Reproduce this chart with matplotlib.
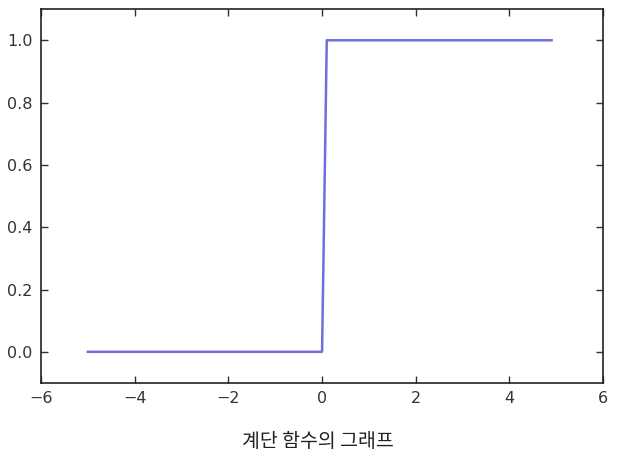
import matplotlib
matplotlib.use('Agg')
import matplotlib.pyplot as plt

# step function samples (x > 0 -> 1)
x_vals = [-5.0, 0.0, 0.1, 4.9]
y_vals = [0, 0, 1, 1]

x_ticks = [-6, -4, -2, 0, 2, 4, 6]
y_ticks = [0.0, 0.2, 0.4, 0.6, 0.8, 1.0]
caption = '계단 함수의 그래프'

plt.rcParams['font.family'] = ['DejaVu Sans']

fig = plt.figure(figsize=(6.17, 4.57), dpi=100)
ax = fig.add_axes([0.0665, 0.162, 0.911, 0.818])

ax.plot(x_vals, y_vals, color='#7070dc', linewidth=1.8)
ax.set_xlim(-6, 6)
ax.set_ylim(-0.1, 1.1)
ax.set_xticks(x_ticks)
ax.set_yticks(y_ticks)
ax.set_yticklabels(['%.1f' % v for v in y_ticks])
ax.tick_params(direction='in', top=True, right=True, length=5, width=1,
               labelsize=11.5, colors='#333333', pad=6)
for s in ax.spines.values():
    s.set_linewidth(1.2)
    s.set_color('#222222')

fig.text(0.515, 0.035, caption, ha='center', va='center', fontsize=14,
         family=['Noto Sans CJK KR', 'DejaVu Sans'], color='#222222')

plt.savefig('out.png', dpi=100)
plt.close()
